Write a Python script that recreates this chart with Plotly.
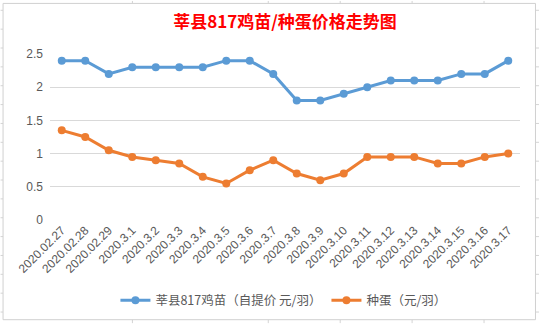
import plotly.graph_objects as go

dates = ["2020.02.27", "2020.02.28", "2020.02.29", "2020.3.1", "2020.3.2", "2020.3.3",
         "2020.3.4", "2020.3.5", "2020.3.6", "2020.3.7", "2020.3.8", "2020.3.9",
         "2020.3.10", "2020.3.11", "2020.3.12", "2020.3.13", "2020.3.14", "2020.3.15",
         "2020.3.16", "2020.3.17"]
chick = [2.4, 2.4, 2.2, 2.3, 2.3, 2.3, 2.3, 2.4, 2.4, 2.2, 1.8, 1.8, 1.9, 2.0, 2.1,
         2.1, 2.1, 2.2, 2.2, 2.4]
egg = [1.35, 1.25, 1.05, 0.95, 0.9, 0.85, 0.65, 0.55, 0.75, 0.9, 0.7, 0.6, 0.7, 0.95,
       0.95, 0.95, 0.85, 0.85, 0.95, 1.0]
y_ticks = [0, 0.5, 1, 1.5, 2, 2.5]
y_labels = ["0", "0.5", "1", "1.5", "2", "2.5"]

W, H = 539, 328
L, R, T, B = 49.5, 19, 54, 105
PW, PH = W - L - R, H - T - B

def px(x):
    return (x - L) / PW

def py(y):
    return (H - B - y) / PH

FONT = "Noto Sans CJK SC, Liberation Sans, sans-serif"
GRAY = "#595959"

fig = go.Figure()
fig.add_trace(go.Scatter(
    x=dates, y=chick, mode="lines+markers", name="莘县817鸡苗（自提价 元/羽）",
    line=dict(color="#5B9BD5", width=3), marker=dict(size=8, color="#5B9BD5")))
fig.add_trace(go.Scatter(
    x=dates, y=egg, mode="lines+markers", name="种蛋（元/羽）",
    line=dict(color="#ED7D31", width=3), marker=dict(size=8, color="#ED7D31")))

shapes = []
grid_col = "#D4D4D4"
# spreadsheet background grid
for cx in [132, 268, 340, 412, 484]:
    shapes.append(dict(type="line", xref="paper", yref="paper", x0=px(cx), x1=px(cx),
                       y0=py(0), y1=py(H), line=dict(color=grid_col, width=1), layer="below"))
r = 9.5
while r < H:
    shapes.append(dict(type="line", xref="paper", yref="paper", x0=px(0), x1=px(W),
                       y0=py(r), y1=py(r), line=dict(color=grid_col, width=1), layer="below"))
    r += 19.2
# chart area
shapes.append(dict(type="rect", xref="paper", yref="paper", x0=px(2.5), x1=px(535.5),
                   y0=py(324.5), y1=py(2.5), fillcolor="white",
                   line=dict(color="#D0D0D0", width=1), layer="below"))

fig.update_layout(
    width=W, height=H,
    margin=dict(l=L, r=R, t=T, b=B),
    paper_bgcolor="white", plot_bgcolor="rgba(0,0,0,0)",
    title=dict(text="<b>莘县817鸡苗/种蛋价格走势图</b>", x=0.5, xref="paper", xanchor="center",
               y=1 - 22 / H, yref="container", yanchor="middle",
               font=dict(family=FONT, size=17, color="#FF0000")),
    font=dict(family=FONT, size=12, color=GRAY),
    showlegend=True,
    legend=dict(orientation="h", x=px(115), xanchor="left", y=py(305), yanchor="middle",
                font=dict(size=12.5, color=GRAY), bgcolor="rgba(0,0,0,0)", itemwidth=30),
    shapes=shapes,
    xaxis=dict(type="category", range=[-0.5, len(dates) - 0.5], tickangle=-45,
               showgrid=False, showline=False, zeroline=False, ticks="",
               tickfont=dict(family="Liberation Sans, sans-serif", size=12, color=GRAY)),
    yaxis=dict(range=[0, 2.5], tickvals=y_ticks, ticktext=y_labels, showgrid=True,
               gridcolor="#D9D9D9", gridwidth=1, zeroline=False, showline=False, ticks="",
               ticklabelstandoff=6,
               tickfont=dict(family="Liberation Sans, sans-serif", size=12, color=GRAY)),
)

fig.write_html("out.html")
